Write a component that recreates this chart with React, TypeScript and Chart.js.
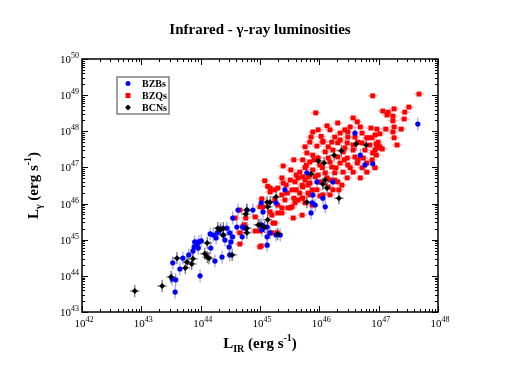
import React, { useEffect, useRef } from 'react';
import { Chart, registerables } from 'chart.js';

Chart.register(...registerables);

// ---------- data (log10 of luminosities, erg s^-1) ----------
const TITLE = 'Infrared - γ-ray luminosities';
const SERIES_NAMES = ['BZBs', 'BZQs', 'BCNs'];
const SERIES_COLORS = ['#0000ff', '#ff0000', '#000000'];
const X_TICK_EXPONENTS = [42, 43, 44, 45, 46, 47, 48];
const Y_TICK_EXPONENTS = [43, 44, 45, 46, 47, 48, 49, 50];

// typical error sizes (dex) per series: [x, y]
const BZB_ERR = [0.04, 0.18];
const BZQ_ERR = [0.08, 0.04];
const BCN_ERR = [0.08, 0.17];

const BZB_LOG: [number, number][] = [
  [43.57, 43.55], [43.52, 43.91], [43.58, 43.89], [43.53, 44.36], [43.65, 44.19], [43.70, 44.49],
  [43.80, 44.58], [43.87, 44.69], [43.89, 44.80], [43.90, 44.94], [43.94, 44.86], [43.97, 44.94],
  [44.01, 44.97], [43.99, 44.00], [43.96, 44.77], [44.17, 44.77], [44.24, 44.41], [44.36, 44.52],
  [44.16, 45.16], [44.21, 45.13], [44.26, 45.05], [44.28, 45.19], [44.34, 45.30], [44.38, 45.13],
  [44.41, 44.99], [44.44, 45.32], [44.48, 44.80], [45.42, 46.38], [44.88, 45.82], [44.54, 45.60],
  [44.61, 45.35], [44.71, 45.35], [44.49, 45.19], [44.54, 45.08], [44.51, 44.94], [45.03, 45.27],
  [45.17, 45.19], [45.12, 44.85], [46.69, 47.34], [46.77, 47.07], [46.90, 47.10], [45.79, 46.85],
  [45.96, 46.60], [46.23, 46.60], [45.89, 46.24], [45.88, 46.02], [45.93, 45.96], [46.06, 46.15],
  [46.10, 45.91], [45.86, 45.74], [46.60, 47.95], [47.66, 48.20], [45.02, 46.02], [45.05, 45.77],
  [45.27, 46.02], [45.03, 45.41], [45.12, 45.35], [45.27, 45.13], [45.12, 45.08], [45.34, 45.13],
  [44.70, 45.08], [44.75, 45.32], [44.78, 45.82], [44.63, 45.82], [44.49, 44.58],
];

const BZQ_LOG: [number, number][] = [
  [45.08, 46.63], [45.37, 46.71], [45.39, 46.57], [45.25, 46.38], [45.30, 46.43], [45.46, 46.29],
  [45.54, 46.38], [45.59, 46.60], [45.64, 46.71], [45.71, 46.51], [45.76, 46.65], [45.81, 46.74],
  [45.67, 46.29], [45.72, 46.15], [45.84, 46.24], [45.54, 45.91], [45.56, 45.60], [45.71, 45.68],
  [45.47, 45.88], [45.37, 45.88], [45.30, 45.96], [45.25, 46.10], [45.17, 45.77], [45.22, 45.46],
  [45.03, 46.13], [45.05, 45.91], [44.92, 45.63], [44.66, 45.82], [44.73, 45.41], [44.76, 45.60],
  [45.00, 44.80], [44.66, 44.88], [45.20, 45.19], [45.00, 45.91], [45.30, 45.74], [45.37, 45.74],
  [45.20, 45.68], [45.51, 45.88], [45.59, 46.02], [45.76, 46.02], [45.88, 45.96], [44.71, 45.35],
  [44.92, 45.24], [45.00, 45.24], [45.25, 45.46], [45.17, 45.19], [45.02, 44.83], [45.29, 45.19],
  [44.58, 45.60], [44.66, 45.19],
  [45.96, 47.59], [46.06, 47.70], [46.21, 47.70], [46.31, 47.68], [46.47, 47.68], [46.57, 47.62],
  [46.72, 47.68], [46.85, 47.62], [46.97, 47.54], [46.90, 47.40], [46.57, 47.48], [46.40, 47.43],
  [46.23, 47.48], [46.10, 47.43], [45.89, 47.34], [45.79, 47.40], [45.72, 47.21], [45.84, 47.15],
  [45.98, 47.26], [46.15, 47.26], [46.31, 47.29], [46.47, 47.26], [46.60, 47.29], [46.74, 47.26],
  [46.80, 47.12], [46.64, 47.12], [46.48, 47.07], [46.35, 47.12], [46.21, 47.01], [46.05, 46.99],
  [45.89, 46.93], [45.76, 46.99], [45.72, 46.74], [45.93, 46.74], [46.10, 46.85], [46.26, 46.85],
  [46.40, 46.87], [46.57, 46.87], [46.72, 46.99], [46.80, 46.87], [46.47, 46.71], [46.31, 46.60],
  [46.18, 46.65], [46.01, 46.60], [45.84, 46.57], [45.72, 46.46], [45.96, 46.38], [46.15, 46.46],
  [46.23, 46.38], [46.69, 46.71], [45.81, 46.29], [45.71, 46.15], [46.06, 46.24], [46.33, 46.38],
  [45.94, 48.51], [46.57, 48.37], [46.64, 48.26], [46.31, 48.23], [46.18, 48.04], [45.98, 48.04],
  [45.89, 47.98], [45.86, 47.84], [46.06, 47.73], [46.35, 47.95], [46.43, 48.04], [46.52, 48.12],
  [46.69, 48.12], [46.48, 47.98], [46.48, 47.84], [46.60, 47.84], [46.72, 47.95], [46.26, 47.84],
  [46.35, 47.76], [46.65, 47.70], [46.80, 47.82],
  [47.68, 49.03], [46.90, 48.98], [47.51, 48.67], [47.44, 48.53], [47.26, 48.62], [47.07, 48.56],
  [47.16, 48.53], [47.14, 48.45], [47.24, 48.42], [47.24, 48.29], [47.43, 48.34], [47.12, 48.06],
  [47.26, 48.12], [47.38, 48.06], [47.24, 47.98], [47.26, 47.82], [47.31, 47.62], [46.87, 48.09],
  [46.97, 48.06], [47.02, 47.93], [46.94, 47.90], [46.82, 47.82], [46.89, 47.82], [46.99, 47.70],
  [46.96, 47.65], [47.02, 47.57], [47.06, 47.51], [46.94, 47.48], [46.96, 47.34],
  [45.78, 47.06], [45.91, 47.21], [46.01, 47.07], [46.18, 47.15], [46.28, 46.99], [46.42, 47.21],
  [46.52, 46.99], [45.98, 46.79], [46.13, 46.71], [46.26, 46.65], [46.38, 46.51], [45.88, 46.38],
  [46.01, 46.21], [46.18, 46.24], [45.61, 46.38], [45.51, 46.65], [45.44, 46.51], [45.64, 46.10],
  [45.57, 46.15], [45.42, 46.10], [45.37, 46.24], [45.17, 46.32], [45.13, 46.48], [45.39, 47.04],
  [45.57, 47.21], [45.17, 46.43], [45.76, 47.57], [46.15, 47.57], [46.43, 47.54], [46.77, 47.48],
  [46.65, 47.21], [46.89, 47.21], [46.94, 46.99], [45.67, 46.87], [45.81, 46.51], [45.61, 46.79],
  [46.03, 47.86], [45.84, 47.70], [46.13, 48.15], [45.52, 46.93],
];

const BCN_LOG: [number, number][] = [
  [42.89, 43.58], [43.35, 43.72], [43.50, 43.97], [43.60, 44.49], [43.74, 44.22], [43.77, 44.38],
  [43.85, 44.33], [43.87, 44.47], [44.07, 44.61], [44.11, 44.52], [44.14, 44.49], [44.11, 44.91],
  [44.29, 45.32], [44.33, 45.27], [45.12, 46.04], [45.17, 46.04], [45.27, 46.18], [45.13, 45.91],
  [44.78, 45.82], [44.76, 45.71], [45.00, 45.41], [45.08, 45.35], [45.13, 45.55], [45.30, 45.16],
  [44.78, 45.32], [44.38, 45.32], [44.38, 45.13], [44.53, 44.58], [45.79, 46.04], [46.62, 47.65],
  [46.79, 47.62], [46.37, 47.46], [46.25, 47.34], [45.98, 47.18], [46.08, 47.12], [45.86, 46.82],
  [46.10, 46.65], [46.06, 46.54], [46.13, 46.43], [46.33, 46.15], [44.97, 45.41], [44.78, 45.19],
];

const toPoints = (arr: [number, number][]) => arr.map(([lx, ly]) => ({ x: Math.pow(10, lx), y: Math.pow(10, ly) }));

const SERIF = '"Liberation Serif", "Times New Roman", serif';

type Seg = { t: string; size: number; dy?: number; bold?: boolean };

function segWidth(ctx: CanvasRenderingContext2D, segs: Seg[]) {
  let w = 0;
  for (const s of segs) {
    ctx.font = `${s.bold ? 'bold ' : ''}${s.size}px ${SERIF}`;
    w += ctx.measureText(s.t).width;
  }
  return w;
}

function drawSegs(ctx: CanvasRenderingContext2D, segs: Seg[], x: number, y: number) {
  let cx = x;
  ctx.textAlign = 'left';
  ctx.textBaseline = 'alphabetic';
  for (const s of segs) {
    ctx.font = `${s.bold ? 'bold ' : ''}${s.size}px ${SERIF}`;
    ctx.fillText(s.t, cx, y + (s.dy || 0));
    cx += ctx.measureText(s.t).width;
  }
}

const decorPlugin = {
  id: 'decor',
  beforeDatasetsDraw(chart: any) {
    const ctx: CanvasRenderingContext2D = chart.ctx;
    const xs = chart.scales.x;
    const ys = chart.scales.y;
    ctx.save();
    ctx.lineWidth = 1;
    chart.data.datasets.forEach((ds: any) => {
      const [ex, ey] = ds.err;
      ctx.strokeStyle = ds.errColor;
      ds.data.forEach((p: any) => {
        const px = xs.getPixelForValue(p.x);
        const py = ys.getPixelForValue(p.y);
        const x0 = xs.getPixelForValue(p.x / Math.pow(10, ex));
        const x1 = xs.getPixelForValue(p.x * Math.pow(10, ex));
        const y0 = ys.getPixelForValue(p.y / Math.pow(10, ey));
        const y1 = ys.getPixelForValue(p.y * Math.pow(10, ey));
        ctx.beginPath();
        ctx.moveTo(x0, py);
        ctx.lineTo(x1, py);
        ctx.moveTo(px, y0);
        ctx.lineTo(px, y1);
        ctx.stroke();
      });
    });
    ctx.restore();
  },
  afterDraw(chart: any) {
    const ctx: CanvasRenderingContext2D = chart.ctx;
    const { left, right, top, bottom } = chart.chartArea;
    const xs = chart.scales.x;
    const ys = chart.scales.y;
    ctx.save();
    ctx.fillStyle = '#000';
    ctx.strokeStyle = '#000';

    // frame
    ctx.lineWidth = 1.5;
    ctx.strokeRect(left, top, right - left, bottom - top);

    // ticks
    ctx.lineWidth = 1;
    const major = 6;
    const minor = 3;
    ctx.beginPath();
    X_TICK_EXPONENTS.forEach((e, i) => {
      for (let k = 1; k <= 9; k++) {
        if (k > 1 && i === X_TICK_EXPONENTS.length - 1) break;
        const v = k * Math.pow(10, e);
        const px = Math.round(xs.getPixelForValue(v)) + 0.5;
        const len = k === 1 ? major : minor;
        ctx.moveTo(px, bottom);
        ctx.lineTo(px, bottom - len);
        ctx.moveTo(px, top);
        ctx.lineTo(px, top + len);
      }
    });
    Y_TICK_EXPONENTS.forEach((e, i) => {
      for (let k = 1; k <= 9; k++) {
        if (k > 1 && i === Y_TICK_EXPONENTS.length - 1) break;
        const v = k * Math.pow(10, e);
        const py = Math.round(ys.getPixelForValue(v)) + 0.5;
        const len = k === 1 ? major : minor;
        ctx.moveTo(left, py);
        ctx.lineTo(left + len, py);
        ctx.moveTo(right, py);
        ctx.lineTo(right - len, py);
      }
    });
    ctx.stroke();

    // tick labels
    X_TICK_EXPONENTS.forEach((e) => {
      const px = xs.getPixelForValue(Math.pow(10, e));
      const segs: Seg[] = [
        { t: '10', size: 11 },
        { t: String(e), size: 8, dy: -5 },
      ];
      const w = segWidth(ctx, segs);
      drawSegs(ctx, segs, px - w / 2 + 2, bottom + 15);
    });
    Y_TICK_EXPONENTS.forEach((e) => {
      const py = ys.getPixelForValue(Math.pow(10, e));
      const segs: Seg[] = [
        { t: '10', size: 11 },
        { t: String(e), size: 8, dy: -5 },
      ];
      const w = segWidth(ctx, segs);
      drawSegs(ctx, segs, left - 3 - w, py + 4);
    });

    // title
    ctx.font = `bold 15px ${SERIF}`;
    ctx.textAlign = 'center';
    ctx.textBaseline = 'alphabetic';
    ctx.fillText(TITLE, 260, 34);

    // x axis title
    const xt: Seg[] = [
      { t: 'L', size: 15, bold: true },
      { t: 'IR', size: 10, bold: true, dy: 4 },
      { t: ' (erg s', size: 15, bold: true },
      { t: '-1', size: 10, bold: true, dy: -7 },
      { t: ')', size: 15, bold: true },
    ];
    const xw = segWidth(ctx, xt);
    drawSegs(ctx, xt, (left + right) / 2 - xw / 2, 348);

    // y axis title
    const yt: Seg[] = [
      { t: 'L', size: 15, bold: true },
      { t: 'γ', size: 10, bold: true, dy: 4 },
      { t: ' (erg s', size: 15, bold: true },
      { t: '-1', size: 10, bold: true, dy: -7 },
      { t: ')', size: 15, bold: true },
    ];
    const yw = segWidth(ctx, yt);
    ctx.save();
    ctx.translate(38, (top + bottom) / 2);
    ctx.rotate(-Math.PI / 2);
    drawSegs(ctx, yt, -yw / 2, 0);
    ctx.restore();

    // legend
    const lx = left + 35;
    const ly = top + 18;
    ctx.fillStyle = '#fff';
    ctx.fillRect(lx, ly, 52, 37);
    ctx.strokeStyle = '#808080';
    ctx.lineWidth = 1.5;
    ctx.strokeRect(lx, ly, 52, 37);
    SERIES_NAMES.forEach((name, i) => {
      const cy = ly + 6.5 + i * 12;
      const mx = lx + 11;
      ctx.fillStyle = SERIES_COLORS[i];
      ctx.beginPath();
      if (i === 0) {
        ctx.arc(mx, cy, 2.5, 0, Math.PI * 2);
      } else if (i === 1) {
        ctx.rect(mx - 2.5, cy - 2.5, 5, 5);
      } else {
        ctx.moveTo(mx, cy - 3);
        ctx.lineTo(mx + 3, cy);
        ctx.lineTo(mx, cy + 3);
        ctx.lineTo(mx - 3, cy);
        ctx.closePath();
      }
      ctx.fill();
      ctx.fillStyle = '#000';
      ctx.font = `bold 10px ${SERIF}`;
      ctx.textAlign = 'left';
      ctx.textBaseline = 'middle';
      ctx.fillText(name, lx + 25, cy + 0.5);
    });
    ctx.restore();
  },
};

export default function App() {
  const ref = useRef<HTMLCanvasElement | null>(null);
  useEffect(() => {
    if (!ref.current) return;
    const chart = new Chart(ref.current, {
      type: 'scatter',
      data: {
        datasets: [
          {
            label: SERIES_NAMES[0],
            data: toPoints(BZB_LOG),
            backgroundColor: SERIES_COLORS[0],
            borderColor: SERIES_COLORS[0],
            borderWidth: 0,
            pointStyle: 'circle',
            pointRadius: 2.6,
            order: 2,
            err: BZB_ERR,
            errColor: 'rgba(110,110,255,0.8)',
          } as any,
          {
            label: SERIES_NAMES[1],
            data: toPoints(BZQ_LOG),
            backgroundColor: SERIES_COLORS[1],
            borderColor: SERIES_COLORS[1],
            borderWidth: 0,
            pointStyle: 'rect',
            pointRadius: 3.5,
            order: 3,
            err: BZQ_ERR,
            errColor: 'rgba(255,110,110,0.8)',
          } as any,
          {
            label: SERIES_NAMES[2],
            data: toPoints(BCN_LOG),
            backgroundColor: SERIES_COLORS[2],
            borderColor: SERIES_COLORS[2],
            borderWidth: 0,
            pointStyle: 'rectRot',
            pointRadius: 3,
            order: 1,
            err: BCN_ERR,
            errColor: 'rgba(60,60,60,0.9)',
          } as any,
        ],
      },
      options: {
        responsive: false,
        animation: false,
        layout: { padding: { left: 82, right: 80, top: 59, bottom: 59 } },
        scales: {
          x: { type: 'logarithmic', min: 1e42, max: 1e48, display: false },
          y: { type: 'logarithmic', min: 1e43, max: 1e50, display: false },
        },
        plugins: {
          legend: { display: false },
          tooltip: { enabled: false },
          title: { display: false },
        },
        elements: { point: { hoverRadius: 3 } },
      },
      plugins: [decorPlugin],
    });
    return () => chart.destroy();
  }, []);
  return (
    <div style={{ position: 'fixed', left: 0, top: 0, width: 518, height: 371, background: '#fff' }}>
      <canvas ref={ref} width={518} height={371} style={{ display: 'block' }} />
    </div>
  );
}
